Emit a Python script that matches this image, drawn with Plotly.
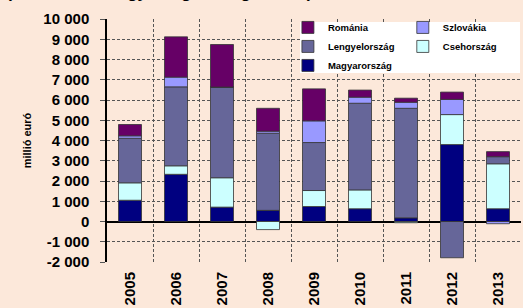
import plotly.graph_objects as go

years = ["2005", "2006", "2007", "2008", "2009", "2010", "2011", "2012", "2013"]
magyarorszag = [1050, 2330, 710, 550, 740, 630, 180, 3800, 630]
csehorszag = [860, 420, 1450, -400, 790, 930, -60, 1480, 2220]
lengyelorszag = [2200, 3900, 4480, 3810, 2370, 4280, 5410, -1790, 350]
szlovakia = [120, 480, 0, 100, 1070, 300, 300, 750, -110]
romania = [560, 1990, 2100, 1130, 1580, 350, 200, 360, 250]

# (name, values, colour, legend column)
series = [
    ("Magyarország", magyarorszag, "#000080", "legend"),
    ("Csehország", csehorszag, "#CCFFFF", "legend2"),
    ("Lengyelország", lengyelorszag, "#666699", "legend"),
    ("Szlovákia", szlovakia, "#9999FF", "legend2"),
    ("Románia", romania, "#660066", "legend"),
]

ytick_vals = [-2000, -1000, 0, 1000, 2000, 3000, 4000, 5000, 6000, 7000, 8000, 9000, 10000]
ytick_text = ["-2 000", "-1 000", "0", "1 000", "2 000", "3 000", "4 000", "5 000",
              "6 000", "7 000", "8 000", "9 000", "10 000"]

FONT = "Arial, Liberation Sans, sans-serif"
BG = "#FCE8DA"

fig = go.Figure()
for name, vals, col, lg in series:
    fig.add_trace(go.Bar(
        x=years, y=vals, name=name, legend=lg,
        marker=dict(color=col, line=dict(color="#333333", width=0.8)),
    ))

legend_font = dict(size=9.5, family=FONT, color="#000000", weight="bold")

fig.update_layout(
    width=523, height=308,
    barmode="relative", bargap=0.5,
    paper_bgcolor=BG, plot_bgcolor=BG,
    margin=dict(l=107, r=2, t=19, b=46),
    font=dict(family=FONT, color="#000000"),
    title=dict(text="<b>(Működőtőke-egyenleg országonként)</b>",
               x=0.012, xanchor="left", y=1.0, yanchor="bottom",
               pad=dict(b=2),
               font=dict(size=17, family=FONT, color="#000000")),
    showlegend=True,
    legend=dict(
        orientation="v", traceorder="reversed",
        x=0.437, xanchor="left", y=1.025, yanchor="top",
        bgcolor="rgba(0,0,0,0)", borderwidth=0,
        font=legend_font, itemwidth=30, tracegroupgap=0,
    ),
    legend2=dict(
        orientation="v", traceorder="reversed",
        x=0.7145, xanchor="left", y=1.025, yanchor="top",
        bgcolor="rgba(0,0,0,0)", borderwidth=0,
        font=legend_font, itemwidth=30, tracegroupgap=0,
    ),
    shapes=[dict(type="rect", xref="paper", yref="paper",
                 x0=(300 - 107) / 414, x1=(520 - 107) / 414,
                 y0=1 - (73 - 19) / 243, y1=1 - (22 - 19) / 243,
                 fillcolor="#FFFFFF", line=dict(width=0), layer="above")],
)

fig.update_yaxes(
    range=[-2000, 10000],
    tickvals=ytick_vals, ticktext=ytick_text,
    tickfont=dict(size=15, family=FONT, color="#000000", weight="bold"),
    ticks="outside", ticklen=5, tickcolor="#555555",
    showline=True, linecolor="#000000", linewidth=1.5,
    showgrid=True, gridcolor="#555555", gridwidth=1, griddash="3px,2px",
    zeroline=True, zerolinecolor="#000000", zerolinewidth=1.5,
    ticklabelstandoff=8,
    title=dict(text="millió euró", standoff=10,
               font=dict(size=11, family=FONT, color="#000000", weight="bold")),
)

fig.update_xaxes(
    tickangle=-90,
    tickfont=dict(size=15, family=FONT, color="#000000", weight="bold"),
    showgrid=True, gridcolor="#555555", gridwidth=1, griddash="3px,2px",
    tickson="boundaries", ticks="",
    showline=False,
    ticklabelstandoff=6,
)

fig.write_html("out.html", config={"displayModeBar": False},
               post_script="document.body.style.margin='0';document.body.style.overflow='hidden';")
